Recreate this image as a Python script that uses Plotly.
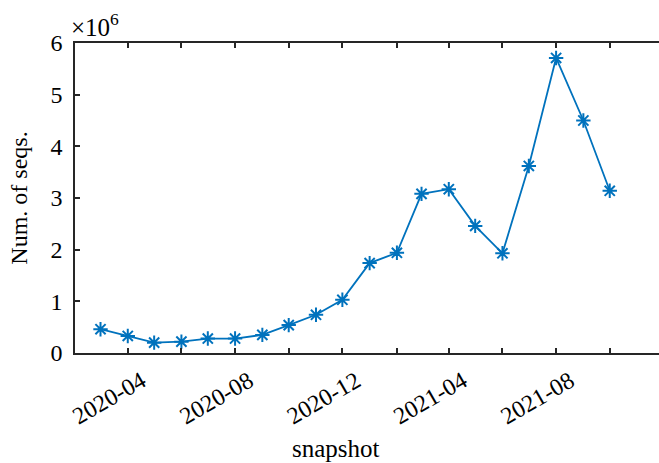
import plotly.graph_objects as go

snapshots = ["2020-03-01", "2020-04-01", "2020-05-01", "2020-06-01", "2020-07-01",
             "2020-08-01", "2020-09-01", "2020-10-01", "2020-11-01", "2020-12-01",
             "2021-01-01", "2021-02-01", "2021-03-01", "2021-04-01", "2021-05-01",
             "2021-06-01", "2021-07-01", "2021-08-01", "2021-09-01", "2021-10-01"]
num_seqs = [0.46e6, 0.33e6, 0.20e6, 0.22e6, 0.28e6, 0.28e6, 0.35e6, 0.54e6, 0.74e6, 1.03e6,
            1.74e6, 1.94e6, 3.08e6, 3.17e6, 2.46e6, 1.93e6, 3.62e6, 5.71e6, 4.50e6, 3.14e6]

x_tickvals = ["2020-04-01", "2020-08-01", "2020-12-01", "2021-04-01", "2021-08-01"]
x_ticktext = ["2020-04", "2020-08", "2020-12", "2021-04", "2021-08"]
y_tickvals = [0, 1e6, 2e6, 3e6, 4e6, 5e6, 6e6]
y_ticktext = ["0", "1", "2", "3", "4", "5", "6"]
x_title = "snapshot"
y_title = "Num. of seqs."

FONT = "Liberation Serif"
AXC = "#262626"
BLUE = "#0072BD"

fig = go.Figure()
fig.add_trace(go.Scatter(
    x=snapshots, y=num_seqs, mode="lines+markers",
    line=dict(color=BLUE, width=1.8),
    marker=dict(symbol="asterisk-open", size=12, color=BLUE,
                line=dict(color=BLUE, width=2)),
    showlegend=False,
))

fig.update_layout(
    width=659, height=463,
    margin=dict(l=75, r=0, t=43, b=110),
    paper_bgcolor="white", plot_bgcolor="white",
    font=dict(family=FONT, size=24, color="black"),
    xaxis=dict(
        type="date", range=["2020-02-01", "2021-11-26"],
        tickmode="array", tickvals=x_tickvals, ticktext=x_ticktext,
        tickangle=-30, ticks="inside", ticklen=5, tickwidth=1.5, tickcolor=AXC,
        ticklabelshift=14, ticklabelstandoff=3,
        minor=dict(ticks="inside", ticklen=5, tickwidth=1.5, tickcolor=AXC,
                   dtick="M2", tick0="2020-02-01", showgrid=False),
        showline=True, linecolor=AXC, linewidth=1.6, mirror="ticks",
        showgrid=False, zeroline=False,
        tickfont=dict(size=24),
    ),
    yaxis=dict(
        range=[0, 6e6], tickmode="array", tickvals=y_tickvals, ticktext=y_ticktext,
        ticks="inside", ticklen=5, tickwidth=1.5, tickcolor=AXC,
        ticklabelstandoff=6,
        showline=True, linecolor=AXC, linewidth=1.6, mirror=False,
        showgrid=False, zeroline=False,
        title=dict(text=y_title, standoff=16, font=dict(size=24)),
        tickfont=dict(size=24),
    ),
    yaxis2=dict(
        overlaying="y", side="right", matches="y", range=[0, 6e6],
        tickmode="array", tickvals=y_tickvals, showticklabels=False,
        ticks="inside", ticklen=4, tickwidth=1.5, tickcolor=AXC,
        showline=False, showgrid=False, zeroline=False,
    ),
)

fig.add_annotation(
    text=x_title, xref="paper", yref="paper", x=0.447, y=0.0,
    xanchor="center", yanchor="top", yshift=-80, showarrow=False,
    font=dict(family=FONT, size=25, color="black"),
)
fig.add_annotation(
    text="×10<sup>6</sup>", xref="paper", yref="paper", x=0.0, y=1.0,
    xanchor="left", yanchor="bottom", xshift=-6, yshift=0, showarrow=False,
    font=dict(family=FONT, size=25, color="black"),
)

fig.write_html("out.html")
